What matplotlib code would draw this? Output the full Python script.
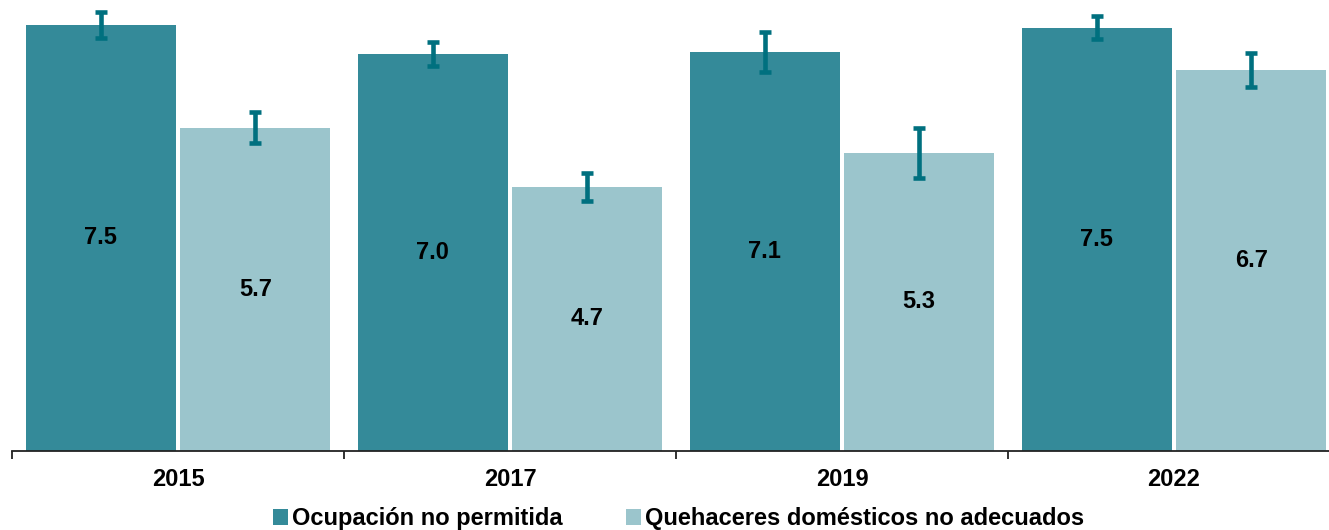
import matplotlib
matplotlib.use("Agg")
import matplotlib.pyplot as plt
import numpy as np
from matplotlib.patches import Patch

plt.rcParams['font.family'] = ['Liberation Sans', 'DejaVu Sans']

years = ["2015", "2017", "2019", "2022"]
series_names = ["Ocupación no permitida", "Quehaceres domésticos no adecuados"]
ocupacion = [7.50, 6.99, 7.03, 7.45]
ocupacion_labels = ["7.5", "7.0", "7.1", "7.5"]
ocupacion_err = [0.23, 0.21, 0.35, 0.20]
quehaceres = [5.69, 4.65, 5.25, 6.71]
quehaceres_labels = ["5.7", "4.7", "5.3", "6.7"]
quehaceres_err = [0.27, 0.24, 0.44, 0.30]

dark = "#348A99"
light = "#9BC5CC"
errc = "#00707F"

W, H = 1329, 530
fig = plt.figure(figsize=(W/100, H/100), dpi=100)
ax = fig.add_axes([12/W, (H-451)/H, (W-12)/W, 451/H])

x = np.arange(len(years))
bw = 0.452
off = 0.2325
ekw = dict(ecolor=errc, elinewidth=3.3, capsize=4.3, capthick=3.3)
ax.bar(x - off, ocupacion, bw, color=dark, yerr=ocupacion_err, error_kw=ekw, zorder=2)
ax.bar(x + off, quehaceres, bw, color=light, yerr=quehaceres_err, error_kw=ekw, zorder=2)

fs = 17
for i in range(len(years)):
    ax.text(x[i] - off, ocupacion[i] / 2, ocupacion_labels[i], ha='center', va='center',
            fontsize=fs, fontweight='bold', color='black', zorder=3)
    ax.text(x[i] + off, quehaceres[i] / 2, quehaceres_labels[i], ha='center', va='center',
            fontsize=fs, fontweight='bold', color='black', zorder=3)

for s in ['top', 'right', 'left']:
    ax.spines[s].set_visible(False)
ax.spines['bottom'].set_color('#222222')
ax.spines['bottom'].set_linewidth(1.3)
ax.set_yticks([])
ax.set_xticks(x)
ax.set_xticklabels(years, fontsize=fs, fontweight='bold')
ax.tick_params(axis='x', which='major', length=0, pad=12)
ax.set_xticks(np.arange(-0.5, len(years), 1.0), minor=True)
ax.tick_params(axis='x', which='minor', length=5.5, width=1.3, color='#222222', direction='out')
ax.set_xlim(-0.5, -0.5 + (W - 12) / 332)
ax.set_ylim(0, 451 / 56.8)

handles = [Patch(facecolor=dark, edgecolor='none'), Patch(facecolor=light, edgecolor='none')]
fig.legend(handles, series_names, loc='center', bbox_to_anchor=(678.5/W, 1 - 519/H), ncol=2,
           frameon=False, prop=dict(size=fs, weight='bold'), handlelength=0.64, handleheight=0.64,
           handletextpad=0.17, columnspacing=2.67, borderpad=0, borderaxespad=0)

fig.savefig("out.png", dpi=100)
